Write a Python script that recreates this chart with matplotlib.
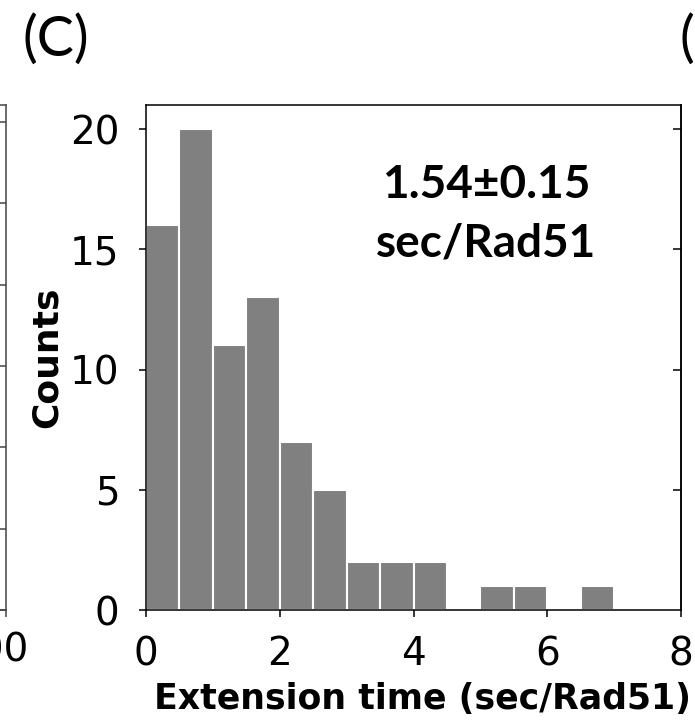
import numpy as np
import matplotlib.pyplot as plt

# histogram of extension times (bin width 0.5 sec/Rad51)
bin_left = [0, 0.5, 1.0, 1.5, 2.0, 2.5, 3.0, 3.5, 4.0, 4.5, 5.0, 5.5, 6.0, 6.5, 7.0, 7.5]
counts = [16, 20, 11, 13, 7, 5, 2, 2, 2, 0, 1, 1, 0, 1, 0, 0]
x_ticks = [0, 2, 4, 6, 8]
y_ticks = [0, 5, 10, 15, 20]
note = '1.54\u00b10.15\nsec/Rad51'

W, H = 695, 726
fig = plt.figure(figsize=(W / 100, H / 100), dpi=100)

# 主图
ax = fig.add_axes([146 / W, 116 / H, 535 / W, 505 / H])
ax.bar(bin_left, counts, width=0.5, align='edge', color='#808080',
       edgecolor='white', linewidth=1.5)
ax.set_xlim(0, 8)
ax.set_ylim(0, 21)
ax.set_xticks(x_ticks)
ax.set_yticks(y_ticks)
ax.tick_params(axis='both', direction='out', length=5, width=1.1,
               labelsize=28, colors='black')
ax.tick_params(axis='y', pad=14)
ax.tick_params(axis='x', pad=13)
for s in ax.spines.values():
    s.set_linewidth(1.1)
    s.set_color('black')

# 右侧内向刻度
sec = ax.secondary_yaxis('right')
sec.set_yticks([5, 10, 15, 20])
sec.tick_params(direction='in', length=6, width=1.1, labelright=False)
sec.spines['right'].set_linewidth(1.1)

ax.set_xlabel('Extension time (sec/Rad51)', fontsize=25, fontweight='bold')
ax.xaxis.set_label_coords((422 - 146) / 535, -(682 - 610) / 505)
ax.set_ylabel('Counts', fontsize=26, fontweight='bold')
ax.yaxis.set_label_coords((64 - 146) / 535, 0.5)

ax.text(5.09, 16.45, note, fontsize=33, fontweight='bold', family='Lato',
        ha='center', va='center', linespacing=1.5)

# 左边相邻面板的残留部分
axl = fig.add_axes([-0.3, 116 / H, 0.3 + 6 / W, 505 / H])
axl.set_xlim(0, 200)
axl.set_ylim(0, 6.21)
axl.set_xticks([200])
axl.set_xticklabels([''])
axl.set_yticks(range(7))
axl.yaxis.tick_right()
axl.tick_params(axis='y', direction='in', length=6, width=1.1, labelright=False,
                colors='#444444')
axl.tick_params(axis='x', direction='out', length=5, width=1.1, colors='#444444')
for s in axl.spines.values():
    s.set_linewidth(1.1)
    s.set_color('#444444')
fig.text(29 / W, 1 - 651 / H, '100', fontsize=28, ha='right', va='center')

# 面板标记
fig.text(56 / W, 1 - 40 / H, '(C)', fontsize=40, family='Lato',
         ha='center', va='center')
fig.text(680 / W, 1 - 40 / H, '(', fontsize=40, family='Lato',
         ha='left', va='center')

fig.savefig('out.png', dpi=100)
